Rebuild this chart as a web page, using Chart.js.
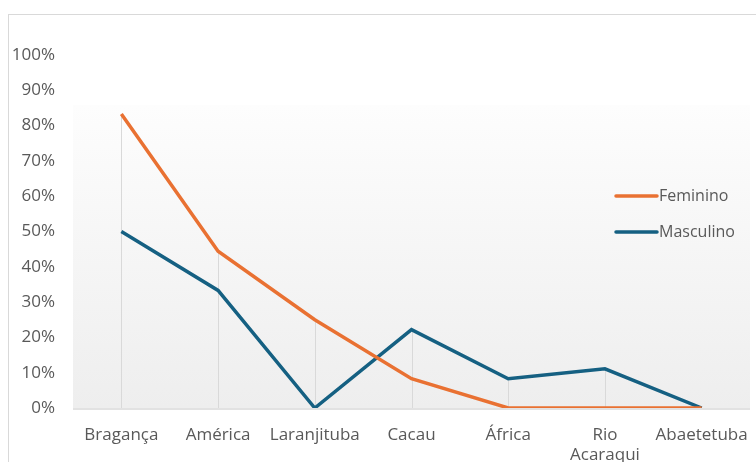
<!DOCTYPE html>
<html lang="pt">
<head>
  <meta charset="UTF-8">
  <title>Feminino x Masculino</title>
  <script src="https://cdn.jsdelivr.net/npm/chart.js"></script>
  <style>
    html, body {
      margin: 0;
      background: white;
      overflow: hidden;
    }
    /* moldura do gráfico */
    #moldura {
      position: absolute;
      left: 8px;
      top: 14px;
      width: 760px;
      height: 460px;
      border: 1.5px solid #d9d9d9;
    }
    #wrap {
      position: absolute;
      left: 0;
      top: 0;
      width: 756px;
      height: 462px;
    }
  </style>
</head>
<body>

  <div id="moldura"></div>
  <div id="wrap">
    <canvas id="grafico"></canvas>
  </div>

  <script>
    // Dados
    const localidades = ['Bragança', 'América', 'Laranjituba', 'Cacau', 'África', ['Rio', 'Acaraqui'], 'Abaetetuba'];
    const feminino = [83.3, 44.4, 25, 8.3, 0, 0, 0];
    const masculino = [50, 33.3, 0, 22.2, 8.3, 11.1, 0];
    const nomesSeries = ['Feminino', 'Masculino'];
    const coresSeries = ['#E97132', '#156082'];

    const fonte = '"Open Sans", "Noto Sans", sans-serif';
    const corTexto = '#595959';

    // fundo em degradê + linhas de queda (do maior valor até o eixo)
    const fundoELinhas = {
      id: 'fundoELinhas',
      beforeDatasetsDraw(chart) {
        const { ctx, chartArea: a, scales: { x, y } } = chart;
        const g = ctx.createLinearGradient(0, a.top + 50, 0, a.bottom);
        g.addColorStop(0, '#fdfdfd');
        g.addColorStop(1, '#eeeeee');
        ctx.save();
        ctx.fillStyle = g;
        ctx.fillRect(a.left, a.top + 50, a.right - a.left, a.bottom - a.top - 50);

        ctx.strokeStyle = '#d9d9d9';
        ctx.lineWidth = 1;
        localidades.forEach((_, i) => {
          const maior = Math.max(feminino[i], masculino[i]);
          if (maior <= 0) return;
          const px = Math.round(x.getPixelForValue(i)) + 0.5;
          ctx.beginPath();
          ctx.moveTo(px, y.getPixelForValue(maior));
          ctx.lineTo(px, y.getPixelForValue(0));
          ctx.stroke();
        });

        // linha do eixo
        ctx.lineWidth = 1.5;
        ctx.beginPath();
        ctx.moveTo(a.left, y.getPixelForValue(0) + 1);
        ctx.lineTo(a.right, y.getPixelForValue(0) + 1);
        ctx.stroke();
        ctx.restore();
      }
    };

    // legenda dentro da área do gráfico, à direita
    const legendaInterna = {
      id: 'legendaInterna',
      afterDatasetsDraw(chart) {
        const { ctx, chartArea: a } = chart;
        const x0 = a.right - 134;
        ctx.save();
        ctx.font = '16px ' + fonte;
        ctx.textBaseline = 'middle';
        nomesSeries.forEach((nome, i) => {
          const yy = 196 + i * 36;
          ctx.strokeStyle = coresSeries[i];
          ctx.lineWidth = 3.5;
          ctx.lineCap = 'round';
          ctx.beginPath();
          ctx.moveTo(x0, yy);
          ctx.lineTo(x0 + 41, yy);
          ctx.stroke();
          ctx.fillStyle = corTexto;
          ctx.fillText(nome, x0 + 43, yy);
        });
        ctx.restore();
      }
    };

    new Chart(document.getElementById('grafico'), {
      type: 'line',
      data: {
        labels: localidades,
        datasets: [
          { label: nomesSeries[0], data: feminino, borderColor: coresSeries[0] },
          { label: nomesSeries[1], data: masculino, borderColor: coresSeries[1] }
        ]
      },
      options: {
        responsive: true,
        maintainAspectRatio: false,
        animation: false,
        layout: { padding: { left: 0, top: 55, right: 6, bottom: 0 } },
        elements: {
          line: { borderWidth: 3.5, tension: 0, borderJoinStyle: 'miter' },
          point: { radius: 0 }
        },
        plugins: {
          legend: { display: false },
          tooltip: { enabled: false }
        },
        scales: {
          x: {
            offset: true,
            afterFit: s => { s.height = 54; s.paddingLeft = 0; s.paddingRight = 0; },
            grid: { display: false, drawTicks: false, offset: true },
            border: { display: false },
            ticks: { color: corTexto, font: { family: fonte, size: 17 }, padding: 17, maxRotation: 0, autoSkip: false }
          },
          y: {
            min: 0,
            max: 100,
            afterFit: s => { s.width = 73; s.paddingTop = 0; s.paddingBottom = 0; },
            grid: { display: false, drawTicks: false },
            border: { display: false },
            ticks: {
              stepSize: 10,
              color: corTexto,
              font: { family: fonte, size: 17 },
              padding: 18,
              callback: v => v + '%'
            }
          }
        }
      },
      plugins: [fundoELinhas, legendaInterna]
    });
  </script>

</body>
</html>
